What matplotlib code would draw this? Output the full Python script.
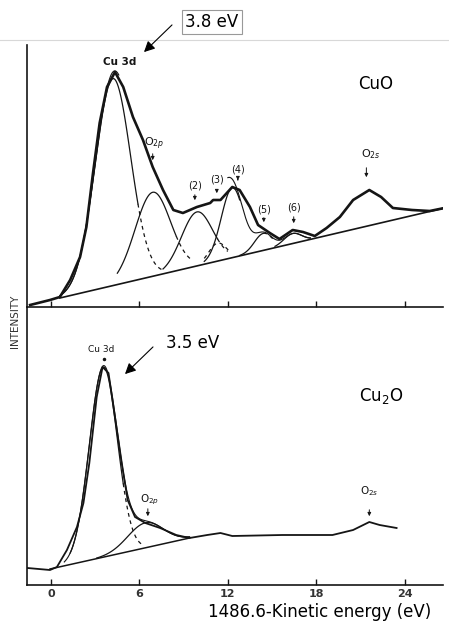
import numpy as np
import matplotlib
matplotlib.use('Agg')
import matplotlib.pyplot as plt
from matplotlib.lines import Line2D

# CuO valence band spectrum (x in eV, intensity in arbitrary units)
cuo_x = [-1.42, -0.07, 0.6, 1.3, 1.97, 2.4, 2.85, 3.3, 3.8, 4.34, 4.9, 5.56, 6.24,
         6.9, 7.6, 8.3, 8.95, 9.9, 10.8, 11.0, 11.5, 12.3, 12.8, 13.5, 14.05, 14.85,
         15.5, 16.4, 17.1, 17.9, 18.7, 19.6, 20.5, 21.6, 22.4, 23.2, 24.5, 25.7, 26.7]
cuo_y = [2, 7, 10, 27, 50, 80, 134, 184, 220, 235, 220, 190, 167,
         140, 117, 97, 94, 100, 104, 107, 107, 120, 117, 100, 82, 74,
         68, 77, 75, 71, 79, 90, 107, 117, 110, 99, 97, 96, 99]
cuo_bg_x = [0.6, 26.7]
cuo_bg_y = [9, 99]
# fitted components: Cu 3d, O2p, (2), (3), (4), (5), (6)
cuo_center = [4.2, 6.9, 9.9, 11.3, 12.3, 14.4, 16.4]
cuo_height = [207, 84, 54, 18, 70, 17, 10]
cuo_width = [1.2, 1.2, 1.05, 0.6, 0.75, 0.6, 0.6]

# Cu2O valence band spectrum
cu2o_x = [-1.6, -0.07, 0.4, 1.08, 1.76, 2.2, 2.6, 3.1, 3.5, 3.9, 4.3, 4.8, 5.2,
          5.7, 6.4, 7.4, 8.5, 9.4, 10.6, 11.5, 12.3, 15.7, 19.1, 20.5, 21.6, 22.3, 23.45]
cu2o_y = [17, 15, 18, 35, 58, 82, 122, 188, 218, 212, 172, 122, 85,
          68, 62, 57, 50, 47, 50, 52, 49, 50, 50, 55, 63, 60, 57]
cu2o_bg_x = [-0.07, 9.4]
cu2o_bg_y = [16, 47]
# fitted components: Cu 3d, O2p
cu2o_center = [3.55, 6.4]
cu2o_height = [190, 25]
cu2o_width = [0.95, 1.2]

tick_pos = [0, 6, 12, 18, 24]
tick_lab = ['0', '6', '12', '18', '24']

W, H = 449, 623
fig = plt.figure(figsize=(W / 100, H / 100), dpi=100)
ink = '#151515'


def px(x, y):
    return (x / W, 1 - y / H)


def gauss(x, c, h, s):
    return h * np.exp(-(x - c) ** 2 / (2 * s ** 2))


def bg_line(x, bx, by):
    return np.interp(x, bx, by)


def draw_comp(ax, c, h, s, bx, by, segs):
    for lo, hi, ls in segs:
        xs = np.linspace(lo, hi, 80)
        ax.plot(xs, bg_line(xs, bx, by) + gauss(xs, c, h, s), color=ink,
                lw=0.9, ls=ls)


def envelope(ax, lo, hi, bx, by, cen, hts, wds):
    xs = np.linspace(lo, hi, 200)
    ys = bg_line(xs, bx, by)
    for c, h, s in zip(cen, hts, wds):
        ys = ys + gauss(xs, c, h, s)
    ax.plot(xs, ys, color=ink, lw=0.8)


dash = (0, (3, 3))

# ---- top panel: CuO
ax1 = fig.add_axes([27 / W, 1 - 307 / H, (443 - 27) / W, (307 - 45) / H])
ax1.plot(cuo_x, cuo_y, color=ink, lw=1.9)
ax1.plot(cuo_bg_x, cuo_bg_y, color=ink, lw=1.2)
segs_top = [
    [(0.6, 5.9, '-'), (5.9, 7.6, dash)],
    [(4.5, 8.5, '-'), (8.5, 9.6, dash)],
    [(7.6, 11.3, '-'), (11.3, 12.0, dash)],
    [(10.4, 12.1, dash)],
    [(10.4, 12.8, '-')],
    [(12.8, 14.4, '-'), (14.4, 15.2, dash)],
    [(15.2, 17.6, '-')],
]
for c, h, s, sg in zip(cuo_center, cuo_height, cuo_width, segs_top):
    draw_comp(ax1, c, h, s, cuo_bg_x, cuo_bg_y, sg)
envelope(ax1, 0.6, 4.6, cuo_bg_x, cuo_bg_y, cuo_center, cuo_height, cuo_width)
envelope(ax1, 12.0, 17.6, cuo_bg_x, cuo_bg_y, cuo_center, cuo_height, cuo_width)

# ---- bottom panel: Cu2O
ax2 = fig.add_axes([27 / W, 1 - 585 / H, (443 - 27) / W, (585 - 307) / H])
ax2.plot(cu2o_x, cu2o_y, color=ink, lw=1.3)
ax2.plot(cu2o_bg_x, cu2o_bg_y, color=ink, lw=1.1)
segs_bot = [
    [(1.3, 4.9, '-'), (4.9, 6.2, dash)],
    [(3.1, 9.4, '-')],
]
for c, h, s, sg in zip(cu2o_center, cu2o_height, cu2o_width, segs_bot):
    draw_comp(ax2, c, h, s, cu2o_bg_x, cu2o_bg_y, sg)
envelope(ax2, 0.9, 9.4, cu2o_bg_x, cu2o_bg_y, cu2o_center, cu2o_height, cu2o_width)

for ax, top in ((ax1, 262), (ax2, 278)):
    ax.set_xlim(-1.63, 26.6)
    ax.set_ylim(0, top)
    ax.spines['top'].set_visible(False)
    ax.spines['right'].set_visible(False)
    for sp in ('left', 'bottom'):
        ax.spines[sp].set_color(ink)
        ax.spines[sp].set_linewidth(1.2)
    ax.set_yticks([])
    ax.set_xticks(tick_pos)
    ax.tick_params(axis='x', direction='in', length=4, width=1, color=ink)
    ax.patch.set_alpha(0)

ax1.set_xticklabels([])
ax2.set_xticklabels(tick_lab, fontsize=8, fontweight='bold', color='#333333')
ax2.tick_params(axis='x', pad=3)

# peak labels, CuO
small = dict(fontsize=7, color=ink, ha='center', va='center')
arr = dict(arrowstyle='-|>', color=ink, lw=0.7, mutation_scale=5)
ax1.text(4.68, 245, 'Cu 3d', fontsize=7.5, fontweight='bold', color=ink,
         ha='center', va='center')
ax1.text(7.0, 163, r'O$_{2p}$', fontsize=8, color=ink, ha='center', va='center')
for lx, ly, lab, a0, a1 in [(9.76, 121, '(2)', 115, 104), (11.25, 127, '(3)', 120, 111),
                            (12.68, 137, '(4)', 130, 124), (14.44, 98, '(5)', 92, 82),
                            (16.47, 100, '(6)', 93, 81)]:
    ax1.text(lx, ly, lab, **small)
    ax1.annotate('', xy=(lx, a1), xytext=(lx, a0), arrowprops=arr)
ax1.annotate('', xy=(6.9, 144), xytext=(6.9, 156), arrowprops=arr)
ax1.text(21.7, 153, r'O$_{2s}$', fontsize=8, color=ink, ha='center', va='center')
ax1.annotate('', xy=(21.4, 127), xytext=(21.4, 142), arrowprops=arr)

# peak labels, Cu2O
ax2.text(3.39, 235, 'Cu 3d', fontsize=6.5, color=ink, ha='center', va='center')
ax2.plot([3.6], [226], marker='o', ms=1.5, color=ink)
ax2.text(6.7, 85, r'O$_{2p}$', fontsize=7.5, color=ink, ha='center', va='center')
ax2.annotate('', xy=(6.57, 66), xytext=(6.57, 79), arrowprops=arr)
ax2.text(21.6, 94, r'O$_{2s}$', fontsize=7.5, color=ink, ha='center', va='center')
ax2.annotate('', xy=(21.6, 66), xytext=(21.6, 78), arrowprops=arr)

# figure-level annotations
fig.add_artist(Line2D([0, 1], [1 - 40 / H] * 2, color='#d8d8d8', lw=0.8))
fig.text(*px(212, 22), '3.8 eV', fontsize=12, ha='center', va='center',
         bbox=dict(boxstyle='square,pad=0.2', fc='white', ec='#999999', lw=0.8))
fig.add_artist(plt.Annotation('', xy=px(142, 54), xytext=px(174, 23),
                              xycoords='figure fraction', textcoords='figure fraction',
                              arrowprops=dict(arrowstyle='-|>', color='black', lw=0.8,
                                              mutation_scale=16)))
fig.text(*px(193, 343), '3.5 eV', fontsize=12, ha='center', va='center')
fig.add_artist(plt.Annotation('', xy=px(123, 376), xytext=px(155, 345),
                              xycoords='figure fraction', textcoords='figure fraction',
                              arrowprops=dict(arrowstyle='-|>', color='black', lw=0.8,
                                              mutation_scale=16)))
fig.text(*px(376, 84), 'CuO', fontsize=12, ha='center', va='center')
fig.text(*px(381, 396), r'Cu$_2$O', fontsize=12, ha='center', va='center')
fig.text(*px(15, 321), 'INTENSITY', fontsize=7.5, rotation=90, ha='center',
         va='center', color='#333333')
fig.text(*px(320, 612), '1486.6-Kinetic energy (eV)', fontsize=12, ha='center',
         va='center')

fig.savefig('out.png', dpi=100)
